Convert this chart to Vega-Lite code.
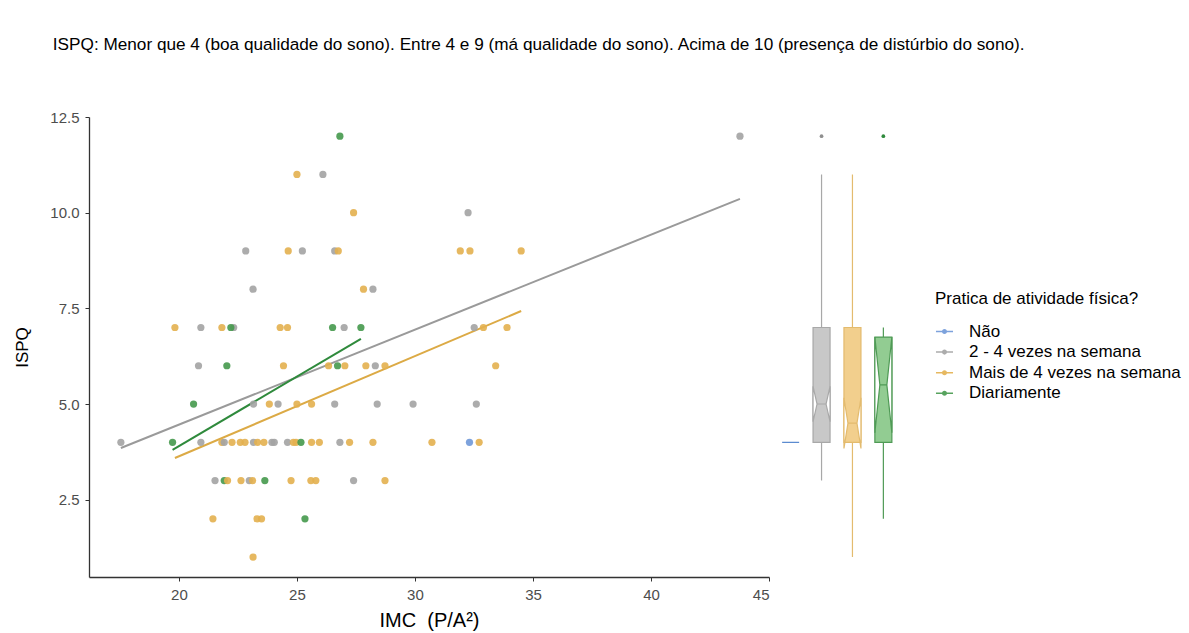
{
  "$schema": "https://vega.github.io/schema/vega-lite/v6.json",
  "padding": {"left": 13, "top": 35, "right": 5, "bottom": 5},
  "background": "white",
  "bounds": "flush",
  "spacing": 0,
  "title": {
    "text": "ISPQ: Menor que 4 (boa qualidade do sono). Entre 4 e 9 (má qualidade do sono). Acima de 10 (presença de distúrbio do sono).",
    "anchor": "start",
    "frame": "bounds",
    "dx": 39,
    "offset": 57,
    "font": "Liberation Sans",
    "fontSize": 17.2,
    "fontWeight": "normal",
    "color": "#000000"
  },
  "datasets": {
    "pontos": [
      {"imc": 26.82, "ispq": 12, "grupo": "Diariamente"},
      {"imc": 43.77, "ispq": 12, "grupo": "2 - 4 vezes na semana"},
      {"imc": 25.0, "ispq": 11, "grupo": "Mais de 4 vezes na semana"},
      {"imc": 26.1, "ispq": 11, "grupo": "2 - 4 vezes na semana"},
      {"imc": 27.4, "ispq": 10, "grupo": "Mais de 4 vezes na semana"},
      {"imc": 32.25, "ispq": 10, "grupo": "2 - 4 vezes na semana"},
      {"imc": 22.83, "ispq": 9, "grupo": "2 - 4 vezes na semana"},
      {"imc": 24.63, "ispq": 9, "grupo": "Mais de 4 vezes na semana"},
      {"imc": 25.23, "ispq": 9, "grupo": "2 - 4 vezes na semana"},
      {"imc": 26.6, "ispq": 9, "grupo": "2 - 4 vezes na semana"},
      {"imc": 26.75, "ispq": 9, "grupo": "Mais de 4 vezes na semana"},
      {"imc": 31.92, "ispq": 9, "grupo": "Mais de 4 vezes na semana"},
      {"imc": 32.33, "ispq": 9, "grupo": "Mais de 4 vezes na semana"},
      {"imc": 34.5, "ispq": 9, "grupo": "Mais de 4 vezes na semana"},
      {"imc": 23.14, "ispq": 8, "grupo": "2 - 4 vezes na semana"},
      {"imc": 27.82, "ispq": 8, "grupo": "Mais de 4 vezes na semana"},
      {"imc": 28.22, "ispq": 8, "grupo": "2 - 4 vezes na semana"},
      {"imc": 19.83, "ispq": 7, "grupo": "Mais de 4 vezes na semana"},
      {"imc": 20.93, "ispq": 7, "grupo": "2 - 4 vezes na semana"},
      {"imc": 21.82, "ispq": 7, "grupo": "Mais de 4 vezes na semana"},
      {"imc": 22.32, "ispq": 7, "grupo": "2 - 4 vezes na semana"},
      {"imc": 22.2, "ispq": 7, "grupo": "Diariamente"},
      {"imc": 24.29, "ispq": 7, "grupo": "Mais de 4 vezes na semana"},
      {"imc": 24.6, "ispq": 7, "grupo": "Mais de 4 vezes na semana"},
      {"imc": 26.51, "ispq": 7, "grupo": "Diariamente"},
      {"imc": 27.0, "ispq": 7, "grupo": "2 - 4 vezes na semana"},
      {"imc": 27.71, "ispq": 7, "grupo": "Diariamente"},
      {"imc": 32.51, "ispq": 7, "grupo": "2 - 4 vezes na semana"},
      {"imc": 32.9, "ispq": 7, "grupo": "Mais de 4 vezes na semana"},
      {"imc": 33.9, "ispq": 7, "grupo": "Mais de 4 vezes na semana"},
      {"imc": 20.83, "ispq": 6, "grupo": "2 - 4 vezes na semana"},
      {"imc": 22.03, "ispq": 6, "grupo": "Diariamente"},
      {"imc": 24.43, "ispq": 6, "grupo": "Mais de 4 vezes na semana"},
      {"imc": 26.34, "ispq": 6, "grupo": "Mais de 4 vezes na semana"},
      {"imc": 26.72, "ispq": 6, "grupo": "Diariamente"},
      {"imc": 27.03, "ispq": 6, "grupo": "Mais de 4 vezes na semana"},
      {"imc": 27.92, "ispq": 6, "grupo": "Mais de 4 vezes na semana"},
      {"imc": 28.32, "ispq": 6, "grupo": "2 - 4 vezes na semana"},
      {"imc": 28.73, "ispq": 6, "grupo": "Mais de 4 vezes na semana"},
      {"imc": 33.42, "ispq": 6, "grupo": "Mais de 4 vezes na semana"},
      {"imc": 20.62, "ispq": 5, "grupo": "Diariamente"},
      {"imc": 23.16, "ispq": 5, "grupo": "2 - 4 vezes na semana"},
      {"imc": 23.83, "ispq": 5, "grupo": "Mais de 4 vezes na semana"},
      {"imc": 24.2, "ispq": 5, "grupo": "2 - 4 vezes na semana"},
      {"imc": 25.0, "ispq": 5, "grupo": "Mais de 4 vezes na semana"},
      {"imc": 25.62, "ispq": 5, "grupo": "Mais de 4 vezes na semana"},
      {"imc": 26.6, "ispq": 5, "grupo": "2 - 4 vezes na semana"},
      {"imc": 28.4, "ispq": 5, "grupo": "2 - 4 vezes na semana"},
      {"imc": 29.92, "ispq": 5, "grupo": "2 - 4 vezes na semana"},
      {"imc": 32.6, "ispq": 5, "grupo": "2 - 4 vezes na semana"},
      {"imc": 17.54, "ispq": 4, "grupo": "2 - 4 vezes na semana"},
      {"imc": 19.73, "ispq": 4, "grupo": "Diariamente"},
      {"imc": 20.93, "ispq": 4, "grupo": "2 - 4 vezes na semana"},
      {"imc": 21.82, "ispq": 4, "grupo": "Mais de 4 vezes na semana"},
      {"imc": 21.92, "ispq": 4, "grupo": "2 - 4 vezes na semana"},
      {"imc": 22.25, "ispq": 4, "grupo": "Mais de 4 vezes na semana"},
      {"imc": 22.6, "ispq": 4, "grupo": "Mais de 4 vezes na semana"},
      {"imc": 22.8, "ispq": 4, "grupo": "Mais de 4 vezes na semana"},
      {"imc": 23.16, "ispq": 4, "grupo": "2 - 4 vezes na semana"},
      {"imc": 23.33, "ispq": 4, "grupo": "Mais de 4 vezes na semana"},
      {"imc": 23.6, "ispq": 4, "grupo": "Mais de 4 vezes na semana"},
      {"imc": 23.94, "ispq": 4, "grupo": "2 - 4 vezes na semana"},
      {"imc": 24.04, "ispq": 4, "grupo": "2 - 4 vezes na semana"},
      {"imc": 24.6, "ispq": 4, "grupo": "2 - 4 vezes na semana"},
      {"imc": 24.85, "ispq": 4, "grupo": "Mais de 4 vezes na semana"},
      {"imc": 24.96, "ispq": 4, "grupo": "Mais de 4 vezes na semana"},
      {"imc": 25.17, "ispq": 4, "grupo": "Diariamente"},
      {"imc": 25.62, "ispq": 4, "grupo": "Mais de 4 vezes na semana"},
      {"imc": 25.95, "ispq": 4, "grupo": "Mais de 4 vezes na semana"},
      {"imc": 26.82, "ispq": 4, "grupo": "2 - 4 vezes na semana"},
      {"imc": 27.23, "ispq": 4, "grupo": "Mais de 4 vezes na semana"},
      {"imc": 28.22, "ispq": 4, "grupo": "Mais de 4 vezes na semana"},
      {"imc": 30.72, "ispq": 4, "grupo": "Mais de 4 vezes na semana"},
      {"imc": 32.31, "ispq": 4, "grupo": "Não"},
      {"imc": 32.72, "ispq": 4, "grupo": "Mais de 4 vezes na semana"},
      {"imc": 21.53, "ispq": 3, "grupo": "2 - 4 vezes na semana"},
      {"imc": 21.92, "ispq": 3, "grupo": "Diariamente"},
      {"imc": 22.06, "ispq": 3, "grupo": "Mais de 4 vezes na semana"},
      {"imc": 22.63, "ispq": 3, "grupo": "Mais de 4 vezes na semana"},
      {"imc": 22.98, "ispq": 3, "grupo": "2 - 4 vezes na semana"},
      {"imc": 23.12, "ispq": 3, "grupo": "Mais de 4 vezes na semana"},
      {"imc": 23.64, "ispq": 3, "grupo": "Diariamente"},
      {"imc": 24.75, "ispq": 3, "grupo": "Mais de 4 vezes na semana"},
      {"imc": 25.59, "ispq": 3, "grupo": "Mais de 4 vezes na semana"},
      {"imc": 25.8, "ispq": 3, "grupo": "Mais de 4 vezes na semana"},
      {"imc": 27.4, "ispq": 3, "grupo": "2 - 4 vezes na semana"},
      {"imc": 28.73, "ispq": 3, "grupo": "Mais de 4 vezes na semana"},
      {"imc": 21.44, "ispq": 2, "grupo": "Mais de 4 vezes na semana"},
      {"imc": 23.31, "ispq": 2, "grupo": "Mais de 4 vezes na semana"},
      {"imc": 23.5, "ispq": 2, "grupo": "Mais de 4 vezes na semana"},
      {"imc": 25.34, "ispq": 2, "grupo": "Diariamente"},
      {"imc": 23.14, "ispq": 1, "grupo": "Mais de 4 vezes na semana"}
    ],
    "ajustes": [
      {"grupo": "2 - 4 vezes na semana", "imc": 17.54, "ispq": 3.85},
      {"grupo": "2 - 4 vezes na semana", "imc": 43.77, "ispq": 10.36},
      {"grupo": "Mais de 4 vezes na semana", "imc": 19.83, "ispq": 3.59},
      {"grupo": "Mais de 4 vezes na semana", "imc": 34.5, "ispq": 7.43},
      {"grupo": "Diariamente", "imc": 19.73, "ispq": 3.8},
      {"grupo": "Diariamente", "imc": 27.71, "ispq": 6.7}
    ],
    "caixas": [
      {"grupo": "Não", "minimo": 4, "q1": 4, "mediana": 4, "q3": 4, "maximo": 4},
      {"grupo": "2 - 4 vezes na semana", "minimo": 3, "q1": 4, "mediana": 5, "q3": 7, "maximo": 11},
      {"grupo": "Mais de 4 vezes na semana", "minimo": 1, "q1": 4, "mediana": 4.5, "q3": 7, "maximo": 11},
      {"grupo": "Diariamente", "minimo": 2, "q1": 4, "mediana": 5.5, "q3": 6.75, "maximo": 7}
    ],
    "atipicos": [
      {"grupo": "2 - 4 vezes na semana", "ispq": 12},
      {"grupo": "Diariamente", "ispq": 12}
    ]
  },
  "hconcat": [
    {
      "width": 680,
      "height": 460,
      "layer": [
        {
          "data": {"name": "ajustes"},
          "mark": {"type": "line", "strokeWidth": 2},
          "encoding": {
            "x": {"field": "imc", "type": "quantitative"},
            "y": {"field": "ispq", "type": "quantitative"},
            "detail": {"field": "grupo"},
            "stroke": {
              "field": "grupo", "type": "nominal", "legend": null,
              "scale": {
                "domain": ["Não", "2 - 4 vezes na semana", "Mais de 4 vezes na semana", "Diariamente"],
                "range": ["#6a93d3", "#9a9a9a", "#dcaa45", "#2f8a3c"]
              }
            }
          }
        },
        {
          "data": {"name": "pontos"},
          "mark": {"type": "circle", "size": 52, "opacity": 0.9},
          "encoding": {
            "x": {
              "field": "imc", "type": "quantitative",
              "scale": {"domain": [16.19, 45], "nice": false, "zero": false},
              "axis": {
                "values": [20, 25, 30, 35, 40, 45],
                "title": "IMC\u00a0\u00a0(P/A²)",
                "grid": false
              }
            },
            "y": {
              "field": "ispq", "type": "quantitative",
              "scale": {"domain": [0.48, 12.5], "nice": false, "zero": false},
              "axis": {
                "values": [2.5, 5, 7.5, 10, 12.5],
                "format": ".1f",
                "title": "ISPQ",
                "grid": false
              }
            },
            "color": {
              "field": "grupo", "type": "nominal",
              "scale": {
                "domain": ["Não", "2 - 4 vezes na semana", "Mais de 4 vezes na semana", "Diariamente"],
                "range": ["#6f98d8", "#a3a3a3", "#e3b04f", "#45994d"]
              },
              "legend": {
                "title": "Pratica de atividade física?",
                "orient": "none",
                "legendX": 846,
                "legendY": 174,
                "symbolType": "M-1,-0.09L1,-0.09L1,0.09L-1,0.09Z M-0.3,0A0.3,0.3,0,1,1,0.3,0A0.3,0.3,0,1,1,-0.3,0Z",
                "symbolSize": 290,
                "labelOffset": 15,
                "labelLimit": 0,
                "titleLimit": 0,
                "titlePadding": 14,
                "rowPadding": 2.6
              }
            }
          }
        }
      ]
    },
    {
      "width": 136,
      "height": 460,
      "layer": [
        {
          "data": {"name": "caixas"},
          "mark": {"type": "rule", "strokeWidth": 1.2},
          "encoding": {
            "x": {"field": "grupo", "type": "nominal", "axis": null,
                  "scale": {"type": "point", "padding": 0.7, "domain": ["Não", "2 - 4 vezes na semana", "Mais de 4 vezes na semana", "Diariamente"]}},
            "y": {"field": "minimo", "type": "quantitative", "axis": null,
                  "scale": {"domain": [0.48, 12.5], "nice": false, "zero": false}},
            "y2": {"field": "maximo"},
            "stroke": {
              "field": "grupo", "type": "nominal", "legend": null,
              "scale": {
                "domain": ["Não", "2 - 4 vezes na semana", "Mais de 4 vezes na semana", "Diariamente"],
                "range": ["#5b8bd0", "#a8a8a8", "#e3bb6e", "#4f9a55"]
              }
            }
          }
        },
        {
          "data": {"name": "caixas"},
          "mark": {"type": "bar", "width": 17, "strokeWidth": 1.2},
          "encoding": {
            "x": {"field": "grupo", "type": "nominal"},
            "y": {"field": "q1", "type": "quantitative"},
            "y2": {"field": "q3"},
            "fill": {
              "field": "grupo", "type": "nominal", "legend": null,
              "scale": {
                "domain": ["Não", "2 - 4 vezes na semana", "Mais de 4 vezes na semana", "Diariamente"],
                "range": ["#6f98d8", "#c8c8c8", "#f2cf8d", "#92cc92"]
              }
            },
            "stroke": {"field": "grupo", "type": "nominal", "legend": null}
          }
        },
        {
          "data": {"name": "caixas"},
          "transform": [{"filter": "datum.grupo !== 'Não'"}],
          "mark": {"type": "point", "filled": true, "fill": "white", "size": 10000, "strokeWidth": 1.2, "opacity": 1},
          "encoding": {
            "x": {"field": "grupo", "type": "nominal"},
            "y": {"field": "mediana", "type": "quantitative"},
            "shape": {
              "field": "grupo", "type": "nominal", "legend": null,
              "scale": {
                "domain": ["2 - 4 vezes na semana", "Mais de 4 vezes na semana", "Diariamente"],
                "range": [
                  "M-0.17,-0.354L-0.09,0L-0.17,0.354ZM0.17,-0.354L0.09,0L0.17,0.354ZM-0.09,0L0.09,0",
                  "M-0.17,-0.506L-0.09,0L-0.17,0.506ZM0.17,-0.506L0.09,0L0.17,0.506ZM-0.09,0L0.09,0",
                  "M-0.17,-0.958L-0.07,0L-0.17,0.958ZM0.17,-0.958L0.07,0L0.17,0.958ZM-0.07,0L0.07,0"
                ]
              }
            },
            "stroke": {"field": "grupo", "type": "nominal", "legend": null}
          }
        },
        {
          "data": {"name": "atipicos"},
          "mark": {"type": "circle", "size": 14, "opacity": 1},
          "encoding": {
            "x": {"field": "grupo", "type": "nominal"},
            "y": {"field": "ispq", "type": "quantitative"},
            "fill": {"field": "grupo", "type": "nominal", "legend": null,
                     "scale": {"domain": ["2 - 4 vezes na semana", "Diariamente"], "range": ["#8f8f8f", "#2f8a3c"]}}
          }
        }
      ],
      "resolve": {"scale": {"fill": "independent"}}
    }
  ],
  "resolve": {
    "scale": {"stroke": "independent", "fill": "independent", "shape": "independent", "y": "independent", "x": "independent"}
  },
  "config": {
    "view": {"stroke": null},
    "font": "Liberation Sans",
    "axis": {
      "domainColor": "#333333",
      "domainWidth": 1.3,
      "tickColor": "#333333",
      "tickSize": 4,
      "labelColor": "#4d4d4d",
      "labelFontSize": 15,
      "labelFont": "Liberation Sans",
      "labelPadding": 6,
      "titleColor": "#000000",
      "titleFont": "Liberation Sans",
      "titleFontWeight": "normal"
    },
    "axisY": {"titlePadding": 18, "titleFontSize": 17},
    "axisX": {"titlePadding": 8, "titleFontSize": 20},
    "legend": {
      "titleFont": "Liberation Sans",
      "titleFontSize": 17,
      "titleFontWeight": "normal",
      "titleColor": "#000000",
      "labelFont": "Liberation Sans",
      "labelFontSize": 17,
      "labelColor": "#000000",
      "padding": 0
    }
  }
}
